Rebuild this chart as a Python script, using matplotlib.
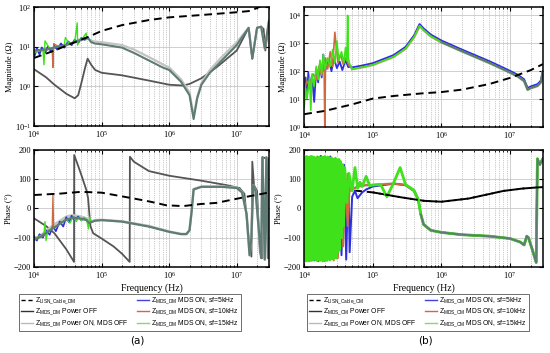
import numpy as np
import matplotlib
matplotlib.use("Agg")
import matplotlib.pyplot as plt
from matplotlib.lines import Line2D

plt.rcParams['font.family'] = ['Liberation Serif', 'DejaVu Serif']
plt.rcParams['mathtext.default'] = 'regular'

# ---------------- DM magnitude (a, top) ----------------
lisn_dm_f = [1e4, 2e4, 4e4, 6.5e4, 1e5, 2e5, 5e5, 1e6, 3e6, 1e7, 1.6e7, 2e7, 2.3e7, 3e7]
lisn_dm_mag = [5.2, 8, 13, 18, 25, 35, 47, 55, 63, 74, 80, 95, 105, 120]

off_dm_f = [1e4, 1.5e4, 2e4, 3e4, 4e4, 4.5e4, 5e4, 5.7e4, 6.2e4, 7e4, 8e4, 1e5, 2e5, 5e5, 1e6,
            1.6e6, 2e6, 3e6, 5e6, 1e7, 1.5e7, 1.7e7, 2e7, 2.3e7, 2.5e7, 2.65e7, 3e7]
off_dm_mag = [2.7, 1.7, 1.1, 0.65, 0.5, 0.6, 1.2, 3, 5, 3.5, 2.6, 2.2, 1.9, 1.4, 1.1,
              1.05, 1.15, 1.6, 3, 8, 30, 5, 30, 32, 28, 8, 42]

on_dm_f = [1e4, 1.5e4, 2e4, 3e4, 4e4, 5e4, 6.2e4, 7e4, 8e4, 1e5, 2e5, 3e5, 5e5, 8e5, 1e6,
           1.5e6, 2e6, 2.3e6, 2.6e6, 3e6, 4e6, 6e6, 1e7, 1.5e7, 1.7e7, 2e7, 2.3e7, 2.6e7, 3e7]
on_dm_mag = [8, 8.5, 9.5, 11, 13, 15, 17, 13, 12, 11.5, 9.5, 7, 4.5, 3, 2.6,
             1.3, 0.6, 0.15, 0.5, 1.1, 2.2, 4.5, 11, 30, 5, 30, 32, 9, 45]
onoff_dm_mag = [8, 8.5, 9.5, 11, 13, 15, 17, 14, 13.5, 13, 11, 8.5, 5.5, 3.6, 3,
                1.5, 0.7, 0.18, 0.55, 1.2, 2.6, 5.5, 13, 30, 5.5, 30, 32, 9, 45]

blue_dm_f = [1e4, 1.1e4, 1.2e4, 1.3e4, 1.45e4, 1.6e4, 1.8e4, 2e4, 2.2e4, 2.5e4, 2.8e4,
             3.2e4, 3.6e4, 4e4, 4.5e4, 5e4, 5.6e4, 6.2e4]
blue_dm_mag = [5.5, 9, 6.5, 9.5, 7, 10, 7.5, 10.5, 8.5, 12, 9.5, 13.5, 11, 15, 12.5, 16.5, 15, 17]
orange_dm_f = [1e4, 1.3e4, 1.6e4, 1.85e4, 1.9e4, 1.95e4, 2.3e4, 2.8e4, 3.5e4, 4.5e4, 5.5e4, 6.2e4]
orange_dm_mag = [7.5, 8, 8.5, 9, 3, 12, 10, 11, 12.5, 14, 16, 17]
green_dm_f = [1e4, 1.2e4, 1.35e4, 1.4e4, 1.45e4, 1.7e4, 2.2e4, 2.8e4, 2.9e4, 3.3e4, 4e4,
              4.35e4, 4.4e4, 4.5e4, 5.2e4, 5.9e4, 6e4, 6.2e4]
green_dm_mag = [7, 8, 8.5, 3.5, 14, 9, 10, 11, 17, 12, 13.5, 40, 11, 15, 16, 22, 15, 17]

# ---------------- DM phase (a, bottom) ----------------
lisn_dm_pf = [1e4, 2.5e4, 5e4, 1e5, 3e5, 5.3e5, 9e5, 1.6e6, 2.9e6, 5e6, 9e6, 1.4e7, 2.5e7, 3e7]
lisn_dm_ph = [46, 51, 57, 54, 34, 23, 11, 8, 15, 19, 31, 40, 51, 55]

off_dm_pf = [1e4, 1.5e4, 2e4, 3e4, 3.9e4, 3.92e4, 4.5e4, 5e4, 6e4, 6.3e4, 6.8e4, 7.5e4, 1e5,
             1.5e5, 2e5, 2.6e5, 2.62e5, 3e5, 5e5, 1e6, 3e6, 7e6, 1.1e7, 1.3e7, 1.5e7, 1.65e7,
             1.7e7, 1.8e7, 2e7, 2.2e7, 2.4e7, 2.45e7, 2.8e7, 3e7]
off_dm_ph = [-34, -60, -85, -140, -183, 183, 145, 115, 60, 35, -60, -85, -103,
             -130, -155, -183, 177, 160, 128, 112, 95, 80, 70, 50, -100, -165,
             160, 80, 60, -150, -170, 175, 170, 100]

on_dm_pf = [1e4, 1.3e4, 1.6e4, 2e4, 2.5e4, 3e4, 3.5e4, 4e4, 5e4, 6e4, 6.5e4, 7e4, 8e4, 1e5,
            2e5, 5e5, 1e6, 1.5e6, 1.8e6, 2e6, 2.15e6, 2.3e6, 3e6, 6e6, 1e7, 1.2e7, 1.4e7,
            1.55e7, 1.65e7, 1.75e7, 1.9e7, 2.1e7, 2.3e7, 2.4e7, 2.6e7, 2.75e7, 2.9e7, 3e7]
on_dm_ph = [-108, -95, -80, -65, -50, -38, -33, -32, -35, -40, -50, -47, -42, -40,
            -45, -62, -80, -88, -88, -75, -10, 65, 74, 74, 70, 55, -20,
            -160, -100, 80, 60, -60, -170, 175, -175, 175, -170, 170]
onoff_dm_ph = [-105, -90, -72, -55, -40, -28, -24, -24, -28, -35, -45, -44, -40, -39,
               -44, -60, -79, -87, -87, -74, -8, 66, 75, 75, 71, 56, -18,
               -160, -100, 80, 60, -60, -170, 175, -175, 175, -170, 170]

blue_dm_pf = [1e4, 1.1e4, 1.2e4, 1.35e4, 1.5e4, 1.7e4, 1.9e4, 2.1e4, 2.4e4, 2.7e4, 3e4,
              3.3e4, 3.6e4, 4e4, 4.5e4, 5e4, 5.6e4, 6e4]
blue_dm_ph = [-95, -110, -88, -100, -75, -90, -60, -78, -45, -62, -30, -48, -25, -40, -28, -40, -34, -40]
orange_dm_pf = [1e4, 1.4e4, 1.8e4, 1.85e4, 1.9e4, 1.95e4, 2.2e4, 2.8e4, 3.5e4, 4.5e4, 6e4]
orange_dm_ph = [-105, -85, -72, -70, 48, -66, -58, -42, -33, -34, -40]
green_dm_pf = [1e4, 1.2e4, 1.4e4, 1.45e4, 1.5e4, 1.6e4, 1.8e4, 2.2e4, 2.6e4, 3e4, 3.4e4,
               3.8e4, 4.2e4, 4.6e4, 5e4, 5.5e4, 6e4, 6.4e4, 6.6e4, 7e4]
green_dm_ph = [-105, -95, -90, -45, -110, -75, -70, -60, -45, -38, -50, -28, -45, -30,
               -42, -30, -40, -70, -30, -47]

# ---------------- CM magnitude (b, top) ----------------
lisn_cm_f = [1e4, 2e4, 5e4, 1e5, 2e5, 5e5, 1e6, 2e6, 5e6, 1e7, 2e7, 3e7]
lisn_cm_mag = [2.9, 3.8, 6.5, 10.5, 13, 16, 18, 22, 35, 58, 110, 180]

on_cm_f = [5e4, 7e4, 1e5, 2e5, 3e5, 4e5, 4.8e5, 5.5e5, 7e5, 1e6, 2e6, 5e6, 1e7, 1.3e7,
           1.6e7, 1.8e7, 2e7, 2.5e7, 2.8e7, 3e7]
on_cm_mag = [120, 140, 170, 330, 650, 1700, 4300, 3000, 1800, 1100, 520, 200, 90, 65,
             45, 22, 25, 30, 40, 90]

blue_cm_f = [1e4, 1.05e4, 1.1e4, 1.15e4, 1.2e4, 1.3e4, 1.4e4, 1.5e4, 1.6e4, 1.7e4, 1.8e4,
             1.9e4, 2e4, 2.1e4, 2.3e4, 2.5e4, 2.7e4, 3e4, 3.3e4, 3.6e4, 4e4, 4.4e4, 4.8e4, 5e4]
blue_cm_mag = [15, 60, 12, 90, 25, 70, 8, 120, 40, 200, 60, 400, 90, 150, 250, 100, 300,
               130, 220, 110, 250, 140, 150, 125]
orange_cm_f = [1e4, 1.1e4, 1.2e4, 1.35e4, 1.5e4, 1.65e4, 1.8e4, 1.95e4, 2e4, 2.05e4, 2.2e4,
               2.4e4, 2.6e4, 2.8e4, 3.1e4, 3.4e4, 3.7e4, 4e4, 4.5e4, 5e4]
orange_cm_mag = [20, 45, 30, 80, 50, 150, 70, 250, 1, 300, 120, 500, 150, 2500, 200, 400,
                 180, 300, 160, 125]
green_cm_f = [1e4, 1.05e4, 1.1e4, 1.2e4, 1.25e4, 1.3e4, 1.4e4, 1.5e4, 1.6e4, 1.7e4, 1.8e4,
              1.9e4, 2e4, 2.2e4, 2.4e4, 2.6e4, 2.8e4, 3e4, 3.2e4, 3.5e4, 3.8e4, 4e4, 4.2e4,
              4.3e4, 4.4e4, 4.6e4, 5e4]
green_cm_mag = [5, 25, 10, 60, 4, 80, 30, 150, 50, 250, 80, 400, 120, 300, 150, 600, 200,
                1200, 250, 500, 200, 700, 250, 10000, 300, 180, 125]

# ---------------- CM phase (b, bottom) ----------------
lisn_cm_pf = [1e4, 2e4, 5e4, 1e5, 2.6e5, 5.6e5, 1e6, 2.5e6, 8e6, 1.5e7, 2.5e7, 3e7]
lisn_cm_ph = [85, 75, 62, 55, 38, 26, 23, 34, 60, 68, 72, 73]

on_cm_pf = [4.5e4, 6e4, 8e4, 1e5, 2e5, 3e5, 4e5, 4.6e5, 5e5, 5.5e5, 7e5, 1e6, 2e6, 5e6,
            1e7, 1.4e7, 1.6e7, 1.75e7, 1.85e7, 2.1e7, 2.4e7, 2.5e7, 2.7e7, 3e7]
on_cm_ph = [60, 75, 80, 80, 85, 80, 60, 30, -20, -55, -75, -82, -90, -95,
            -103, -115, -125, -95, -100, -140, -185, 170, 150, 170]

blue_cm_pf = [1e4, 1.05e4, 1.1e4, 1.2e4, 1.3e4, 1.4e4, 1.5e4, 1.6e4, 1.75e4, 1.9e4, 2.05e4,
              2.2e4, 2.4e4, 2.6e4, 2.8e4, 3e4, 3.2e4, 3.5e4, 3.8e4, 4.1e4, 4.4e4, 4.6e4,
              5e4, 5.5e4, 6e4, 7e4, 8e4, 1e5]
blue_cm_ph = [170, -180, 175, -175, 178, -178, 172, -180, 180, -175, 175, -170, 178, -172,
              165, -170, 160, -160, 150, -175, 120, -150, 40, 60, 35, 55, 65, 75]
orange_cm_pf = [1e4, 1.07e4, 1.15e4, 1.25e4, 1.35e4, 1.45e4, 1.55e4, 1.7e4, 1.85e4, 2e4,
                2.15e4, 2.3e4, 2.5e4, 2.7e4, 2.9e4, 3.1e4, 3.4e4, 3.7e4, 4e4, 4.3e4, 4.6e4]
orange_cm_ph = [165, -175, 170, -178, 175, -172, 178, -175, 168, -180, 170, -165, 175,
                -178, 160, -170, 150, -130, 120, -60, 70]
green_cm_pf = [1e4, 1.02e4, 1.04e4, 1.06e4, 1.08e4, 1.1e4, 1.12e4, 1.14e4, 1.16e4, 1.18e4,
               1.2e4, 1.23e4, 1.26e4, 1.29e4, 1.32e4, 1.35e4, 1.38e4, 1.41e4, 1.44e4, 1.47e4,
               1.5e4, 1.54e4, 1.58e4, 1.62e4, 1.66e4, 1.7e4, 1.74e4, 1.78e4, 1.82e4, 1.86e4,
               1.9e4, 1.95e4, 2e4, 2.05e4, 2.1e4, 2.15e4, 2.2e4, 2.26e4, 2.32e4, 2.38e4,
               2.44e4, 2.5e4, 2.57e4, 2.64e4, 2.71e4, 2.78e4, 2.85e4, 2.93e4, 3.01e4, 3.1e4,
               3.2e4, 3.3e4, 3.4e4, 3.5e4, 3.6e4, 3.75e4, 3.9e4,
               4.2e4, 4.5e4, 5e4, 5.5e4, 6e4, 6.5e4, 7e4, 8e4, 9e4, 1e5, 1.3e5, 1.6e5,
               2e5, 2.5e5, 3e5, 4e5]
green_cm_ph = [175, -178, 172, -180, 178, -175, 176, -178, 174, -180,
               176, -176, 178, -178, 172, -175, 176, -172, 170, -176,
               174, -178, 170, -175, 176, -178, 172, -174, 176, -180,
               174, -176, 178, -172, 170, -178, 176, -170, 174, -176,
               172, -168, 170, -174, 168, -160, 172, -170, 165, -150,
               168, -140, 160, -100, 150, -60, 140,
               20, 120, 60, 140, 70, 90, 75, 110, 78, 80, 82, 40,
               86, 140, 82, 62]

# ---------------- colours ----------------
c_blue = '#2c2ee0'
c_orange = '#cf6a3e'
c_green = '#3fe21a'
c_off = '#555555'
c_onoff = '#c4c4c4'
c_mix = '#5e7c74'

fig = plt.figure(figsize=(5.5, 3.53), dpi=100)
ax_dm_m = fig.add_axes([0.062, 0.643, 0.427, 0.337])
ax_dm_p = fig.add_axes([0.062, 0.244, 0.427, 0.331])
ax_cm_m = fig.add_axes([0.553, 0.640, 0.434, 0.340])
ax_cm_p = fig.add_axes([0.553, 0.244, 0.434, 0.331])


def style(ax, phase):
    ax.set_xscale('log')
    ax.set_xlim(1e4, 3e7)
    ax.grid(True, which='major', color='#c8c8c8', lw=0.6, ls='-')
    ax.grid(True, which='minor', axis='x', color='#999999', lw=0.5, ls=':')
    ax.tick_params(which='both', direction='in', top=True, right=True, labelsize=6, pad=2)
    ax.tick_params(which='major', length=3)
    ax.tick_params(which='minor', length=1.5)
    for s in ax.spines.values():
        s.set_linewidth(1.1)
    if phase:
        ax.set_ylim(-200, 200)
        ax.set_yticks([-200, -100, 0, 100, 200])
        ax.set_ylabel('Phase (°)', fontsize=6, labelpad=1)
        ax.set_xlabel('Frequency (Hz)', fontsize=7, labelpad=2)
    else:
        ax.set_yscale('log')
        ax.set_ylabel('Magnitude (Ω)', fontsize=6, labelpad=1)
        ax.yaxis.set_minor_locator(matplotlib.ticker.NullLocator())


# (a) magnitude
ax = ax_dm_m
style(ax, False)
ax.set_ylim(0.1, 100)
ax.plot(off_dm_f, off_dm_mag, color=c_off, lw=1.3)
ax.plot(on_dm_f, onoff_dm_mag, color=c_onoff, lw=1.6)
ax.plot(blue_dm_f, blue_dm_mag, color=c_blue, lw=1.4)
ax.plot(orange_dm_f, orange_dm_mag, color=c_orange, lw=1.0)
ax.plot(green_dm_f, green_dm_mag, color=c_green, lw=1.0)
ax.plot(on_dm_f, on_dm_mag, color=c_mix, lw=1.5)
ax.plot(lisn_dm_f, lisn_dm_mag, color='black', lw=1.4, ls=(0, (4, 2.5)))

# (a) phase
ax = ax_dm_p
style(ax, True)
ax.plot(off_dm_pf, off_dm_ph, color=c_off, lw=1.3)
ax.plot(on_dm_pf, onoff_dm_ph, color=c_onoff, lw=1.8)
ax.plot(blue_dm_pf, blue_dm_ph, color=c_blue, lw=1.2)
ax.plot(orange_dm_pf, orange_dm_ph, color=c_orange, lw=0.9)
ax.plot(green_dm_pf, green_dm_ph, color=c_green, lw=1.0)
ax.plot(on_dm_pf, on_dm_ph, color=c_mix, lw=1.6)
ax.plot(lisn_dm_pf, lisn_dm_ph, color='black', lw=1.4, ls=(0, (4, 2.5)))

# (b) magnitude
ax = ax_cm_m
style(ax, False)
ax.set_ylim(1, 2e4)
ax.set_yticks([1, 10, 100, 1000, 10000])
ax.plot(on_cm_f, on_cm_mag, color=c_onoff, lw=2.2)
ax.plot(blue_cm_f + on_cm_f, blue_cm_mag + [m * 1.15 for m in on_cm_mag], color=c_blue, lw=1.3)
ax.plot(orange_cm_f + on_cm_f, orange_cm_mag + on_cm_mag, color=c_orange, lw=1.2)
ax.plot(green_cm_f + on_cm_f, green_cm_mag + on_cm_mag, color=c_green, lw=1.2)
ax.plot(on_cm_f[9:], on_cm_mag[9:], color=c_mix, lw=1.4)
ax.plot(lisn_cm_f, lisn_cm_mag, color='black', lw=1.4, ls=(0, (4, 2.5)))

# (b) phase
ax = ax_cm_p
style(ax, True)
ax.plot(lisn_cm_pf, lisn_cm_ph, color='black', lw=1.4, ls=(0, (4, 2.5)))
ax.plot(on_cm_pf, on_cm_ph, color=c_onoff, lw=2.0)
ax.plot(blue_cm_pf + on_cm_pf[4:], blue_cm_ph + on_cm_ph[4:], color=c_blue, lw=1.4)
ax.plot(orange_cm_pf + on_cm_pf, orange_cm_ph + on_cm_ph, color=c_orange, lw=1.4)
ax.plot(green_cm_pf + on_cm_pf[6:], green_cm_ph + on_cm_ph[6:], color=c_green, lw=2.0)
ax.plot(on_cm_pf[8:], on_cm_ph[8:], color=c_mix, lw=1.4)
ax.plot(lisn_cm_pf[3:], lisn_cm_ph[3:], color='black', lw=1.4, ls=(0, (4, 2.5)))


def legend_handles():
    return [Line2D([], [], color='black', lw=1.0, ls=(0, (3, 2))),
            Line2D([], [], color='#333333', lw=1.0),
            Line2D([], [], color='#bbbbbb', lw=1.0),
            Line2D([], [], color='#4040e0', lw=1.0),
            Line2D([], [], color=c_orange, lw=1.0),
            Line2D([], [], color='#7ee060', lw=1.0)]


for x0, tag, lab in [(0.034, 'DM', '(a)'), (0.558, 'CM', '(b)')]:
    sub = r'$_{MDS\_%s}$' % tag
    labels = [r'Z$_{LISN\_Cable\_%s}$' % tag,
              'Z' + sub + ' Power OFF',
              'Z' + sub + ' Power ON, MDS OFF',
              'Z' + sub + ' MDS ON, sf=5kHz',
              'Z' + sub + ' MDS ON, sf=10kHz',
              'Z' + sub + ' MDS ON, sf=15kHz']
    leg = fig.legend(legend_handles(), labels, ncol=2, loc='upper left',
                     bbox_to_anchor=(x0, 0.168), bbox_transform=fig.transFigure,
                     prop={'family': 'Liberation Sans', 'size': 4.9}, frameon=True,
                     fancybox=False, edgecolor='#555555', framealpha=1,
                     handlelength=1.8, handletextpad=0.3, columnspacing=1.2,
                     labelspacing=0.2, borderpad=0.3, borderaxespad=0)
    leg.get_frame().set_linewidth(0.6)
    fig.text(x0 + 0.215, 0.035, lab, ha='center', va='center', fontsize=7.5,
             family='DejaVu Sans')

fig.savefig('out.png', dpi=100)
